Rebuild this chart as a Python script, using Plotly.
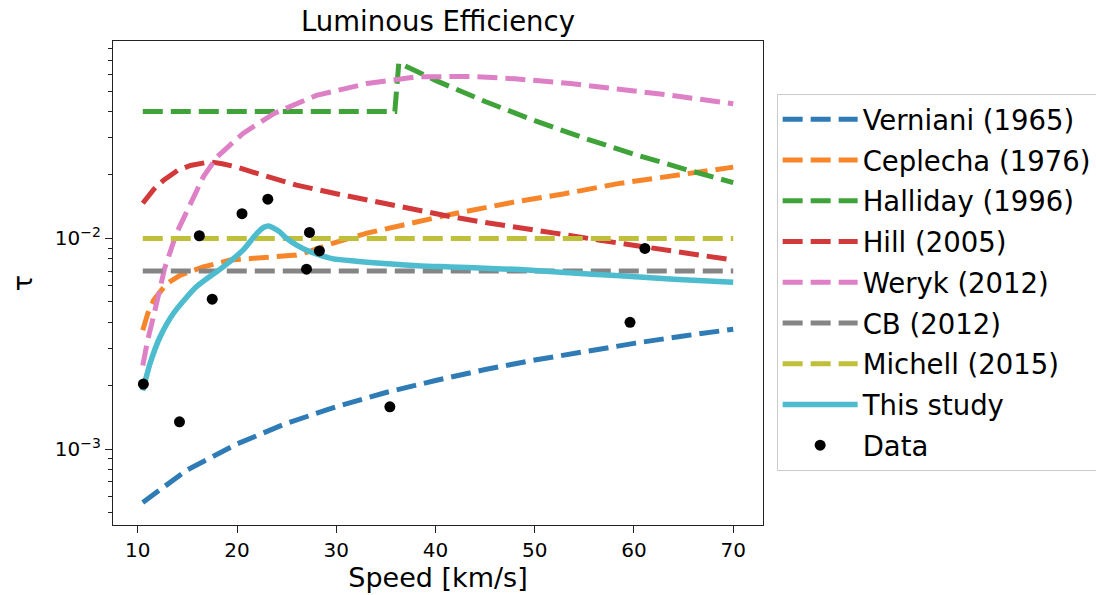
import plotly.graph_objects as go

# ---------------- data ----------------
verniani_v = [10.5, 15, 20, 25, 30, 35, 40, 45, 50, 55, 60, 65, 70]
verniani_tau = [5.6e-4, 8.0e-4, 1.06e-3, 1.33e-3, 1.59e-3, 1.86e-3, 2.12e-3,
                2.39e-3, 2.65e-3, 2.92e-3, 3.18e-3, 3.45e-3, 3.71e-3]

ceplecha_v = [10.5, 11.0, 11.6, 12.9, 14.3, 16.6, 19.3, 22.7, 26.0, 27.0, 29.7,
              33.1, 38.2, 41.5, 48.3, 53.0, 58.4, 64.0, 70.0]
ceplecha_tau = [3.67e-3, 4.4e-3, 5.1e-3, 6.1e-3, 6.7e-3, 7.33e-3, 7.9e-3, 8.13e-3,
                8.34e-3, 8.6e-3, 9.5e-3, 1.06e-2, 1.20e-2, 1.30e-2, 1.50e-2,
                1.63e-2, 1.82e-2, 1.99e-2, 2.18e-2]

halliday_v = [10.5, 35.9, 36.3, 40, 45, 50, 55, 60, 65, 70]
halliday_tau = [0.040, 0.040, 0.068, 0.0562, 0.0446, 0.0362, 0.0299, 0.0251,
                0.0214, 0.0184]

hill_v = [10.5, 11.6, 12.6, 14.0, 15.3, 16.5, 17.3, 18.5, 20.0, 21.5, 23.3, 26.0,
          30.0, 33.1, 37.0, 41.5, 45.0, 48.5, 52.0, 56.6, 60.0, 65.0, 70.0]
hill_tau = [0.0147, 0.0171, 0.0189, 0.0210, 0.0222, 0.0229, 0.0231, 0.0226,
            0.0218, 0.0207, 0.0196, 0.0179, 0.0163, 0.0152, 0.0140, 0.0127,
            0.0119, 0.0113, 0.0106, 0.0098, 0.0093, 0.0086, 0.0079]

weryk_v = [10.5, 11.0, 11.7, 12.7, 13.9, 15.3, 16.6, 18.0, 20.6, 23.7, 28.0,
           33.1, 38.1, 43.5, 48.0, 53.6, 58.0, 63.7, 70.0]
weryk_tau = [2.5e-3, 3.3e-3, 4.5e-3, 7.2e-3, 0.0106, 0.0147, 0.0196, 0.0244,
             0.0315, 0.0391, 0.0477, 0.0543, 0.0584, 0.0587, 0.0572, 0.0543,
             0.0515, 0.0478, 0.0435]

cb_v = [10.5, 70.0]
cb_tau = [0.007, 0.007]

michell_v = [10.5, 70.0]
michell_tau = [0.010, 0.010]

study_v = [10.5, 11.24, 12.25, 13.6, 15.9, 18.6, 20.6, 22.0, 22.7, 23.2, 23.7,
           24.3, 25.0, 26.0, 27.5, 29.7, 32.0, 34.8, 38.5, 41.5, 45.0, 48.5,
           53.0, 58.6, 64.0, 70.0]
study_tau = [1.9e-3, 2.56e-3, 3.42e-3, 4.42e-3, 5.9e-3, 7.33e-3, 8.8e-3, 0.01057,
             0.0113, 0.01145, 0.0112, 0.01075, 0.0100, 0.0093, 0.0086, 0.0080,
             0.0078, 0.0076, 0.0074, 0.00733, 0.00722, 0.00712, 0.0069,
             0.00665, 0.0064, 0.0062]

data_v = [10.56, 14.2, 16.2, 17.5, 20.5, 23.1, 27.0, 27.3, 28.3, 35.4, 59.6, 61.1]
data_tau = [2.04e-3, 1.35e-3, 1.03e-2, 5.15e-3, 1.31e-2, 1.535e-2, 7.15e-3,
            1.068e-2, 8.73e-3, 1.59e-3, 4.0e-3, 8.97e-3]

x_ticks = [10, 20, 30, 40, 50, 60, 70]
y_major = [1e-3, 1e-2]
y_major_text = ["10<sup>−3</sup>", "10<sup>−2</sup>"]
y_minor = [5e-4, 6e-4, 7e-4, 8e-4, 9e-4,
           2e-3, 3e-3, 4e-3, 5e-3, 6e-3, 7e-3, 8e-3, 9e-3,
           2e-2, 3e-2, 4e-2, 5e-2, 6e-2, 7e-2, 8e-2]

# ---------------- figure ----------------
FONT = "DejaVu Sans"
DASH = "20px,8px"
LW = 5

series = [
    ("Verniani (1965)", verniani_v, verniani_tau, "#2f7bb6"),
    ("Ceplecha (1976)", ceplecha_v, ceplecha_tau, "#f7862a"),
    ("Halliday (1996)", halliday_v, halliday_tau, "#3fa33a"),
    ("Hill (2005)", hill_v, hill_tau, "#d2393a"),
    ("Weryk (2012)", weryk_v, weryk_tau, "#de80c6"),
    ("CB (2012)", cb_v, cb_tau, "#858585"),
    ("Michell (2015)", michell_v, michell_tau, "#c0bf3a"),
]

fig = go.Figure()
for i, (name, v, t, c) in enumerate(series):
    fig.add_trace(go.Scatter(
        x=v, y=t, name=name, mode="lines",
        line=dict(color=c, width=LW, dash=DASH),
        legendgroup=f"g{i}",
    ))

fig.add_trace(go.Scatter(
    x=study_v, y=study_tau, name="This study", mode="lines",
    line=dict(color="#4dbccf", width=5.5, shape="spline", smoothing=0.6),
    legendgroup="g7",
))
fig.add_trace(go.Scatter(
    x=data_v, y=data_tau, name="Data", mode="markers",
    marker=dict(color="black", size=11),
    legendgroup="g8",
))
# invisible trace to carry the minor-tick axis
fig.add_trace(go.Scatter(x=[40], y=[0.01], yaxis="y2", mode="markers",
                         marker=dict(opacity=0), showlegend=False, hoverinfo="skip"))

axis_color = "#222222"
fig.update_layout(
    width=1096, height=595, autosize=False,
    paper_bgcolor="white", plot_bgcolor="white",
    margin=dict(l=113, r=333, t=41, b=70, autoexpand=False),
    font=dict(family=FONT, color="black", size=20),
    title=dict(text="Luminous Efficiency", x=0.5, xref="paper", xanchor="center",
               y=1 - 21 / 595, yref="container", yanchor="middle",
               font=dict(family=FONT, size=27.5, color="black")),
    xaxis=dict(
        range=[7.5, 73.0], tickvals=x_ticks, ticks="outside", ticklen=7,
        tickwidth=1.2, tickcolor=axis_color, showgrid=False, zeroline=False,
        showline=True, linecolor=axis_color, linewidth=1.2, mirror=True,
        tickfont=dict(size=20, family=FONT),
        title=dict(text="Speed [km/s]", font=dict(size=27, family=FONT), standoff=6),
    ),
    yaxis=dict(
        type="log", range=[-3.359, -1.0635], tickvals=y_major, ticktext=y_major_text,
        ticks="outside", ticklen=7, tickwidth=1.2, tickcolor=axis_color,
        showgrid=False, zeroline=False, showline=True, linecolor=axis_color,
        linewidth=1.2, mirror=True, tickfont=dict(size=20, family=FONT),
        title=dict(text="τ", font=dict(size=27, family=FONT), standoff=14),
    ),
    yaxis2=dict(
        type="log", range=[-3.359, -1.0635], overlaying="y", anchor="x", side="left",
        tickvals=y_minor, ticks="outside", ticklen=4, tickwidth=1.0,
        tickcolor=axis_color, showticklabels=False, showgrid=False,
        zeroline=False, showline=False,
    ),
    legend=dict(
        x=1.021, xanchor="left", y=0.891, yanchor="top",
        font=dict(size=27.5, family=FONT, color="black"),
        bordercolor="#cccccc", borderwidth=1, bgcolor="white",
        traceorder="grouped", tracegroupgap=2, itemwidth=75,
    ),
    showlegend=True,
)

fig.write_html("out.html",
               config={"displayModeBar": False},
               post_script="document.body.style.margin='0px';"
                           "document.body.style.overflow='hidden';")
